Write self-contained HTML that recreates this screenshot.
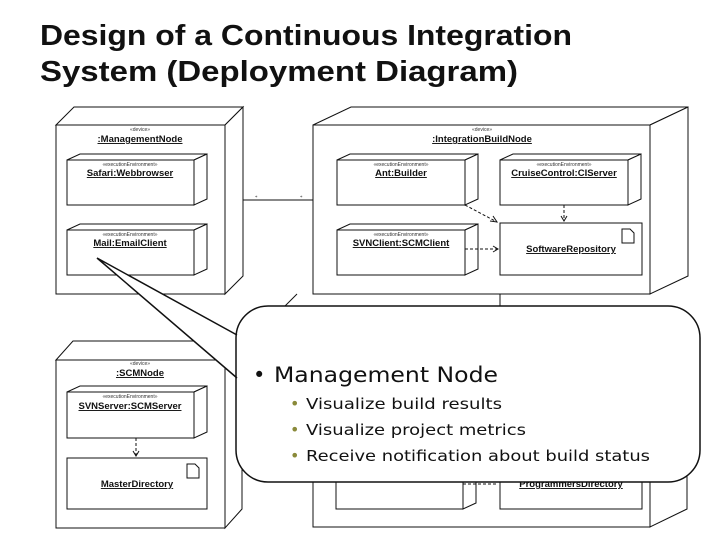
<!DOCTYPE html>
<html><head><meta charset="utf-8"><style>
html,body{margin:0;padding:0;background:#fff;}
svg{display:block;}
.st{font:5px "Liberation Sans",sans-serif;fill:#333;text-anchor:middle;}
.nm{font:bold 9.5px "Liberation Sans",sans-serif;fill:#111;text-anchor:middle;text-decoration:underline;}
</style></head><body>
<svg width="720" height="540" viewBox="0 0 720 540" xmlns="http://www.w3.org/2000/svg">
<g font-family="Liberation Sans, sans-serif" font-weight="bold" font-size="29" fill="#111">
<text x="40" y="45" textLength="532" lengthAdjust="spacingAndGlyphs">Design of a Continuous Integration</text>
<text x="40" y="81" textLength="478" lengthAdjust="spacingAndGlyphs">System (Deployment Diagram)</text>
</g>
<g fill="#fff" stroke="#111" stroke-width="1">
<polygon points="56,125 74,107 243,107 225,125"/><polygon points="225,125 243,107 243,276 225,294"/><rect x="56" y="125" width="169" height="169"/>
<polygon points="313,125 351,107 688,107 650,125"/><polygon points="650,125 688,107 688,276 650,294"/><rect x="313" y="125" width="337" height="169"/>
<polygon points="56,360 73,341 242,341 225,360"/><polygon points="225,360 242,341 242,509 225,528"/><rect x="56" y="360" width="169" height="168"/>
<polygon points="313,360 350,342 687,342 650,360"/><polygon points="650,360 687,342 687,509 650,527"/><rect x="313" y="360" width="337" height="167"/>
<polygon points="67,160 80,154 207,154 194,160"/><polygon points="194,160 207,154 207,199 194,205"/><rect x="67" y="160" width="127" height="45"/>
<polygon points="67,230 80,224 207,224 194,230"/><polygon points="194,230 207,224 207,269 194,275"/><rect x="67" y="230" width="127" height="45"/>
<polygon points="337,160 350,154 478,154 465,160"/><polygon points="465,160 478,154 478,199 465,205"/><rect x="337" y="160" width="128" height="45"/>
<polygon points="500,160 513,154 641,154 628,160"/><polygon points="628,160 641,154 641,199 628,205"/><rect x="500" y="160" width="128" height="45"/>
<polygon points="337,230 350,224 478,224 465,230"/><polygon points="465,230 478,224 478,269 465,275"/><rect x="337" y="230" width="128" height="45"/>
<rect x="500" y="223" width="142" height="52"/>
<polygon points="67,392 80,386 207,386 194,392"/><polygon points="194,392 207,386 207,432 194,438"/><rect x="67" y="392" width="127" height="46"/>
<rect x="67" y="458" width="140" height="51"/>
<polygon points="336,458 349,452 476,452 463,458"/><polygon points="463,458 476,452 476,503 463,509"/><rect x="336" y="458" width="127" height="51"/>
<rect x="500" y="458" width="142" height="51"/>
<path d="M622,229 h8 l4,4 v10 h-12 z"/><path d="M187,464 h8 l4,4 v10 h-12 z"/>
</g>
<g stroke="#111" fill="none" stroke-width="1">
<line x1="243" y1="200" x2="313" y2="200"/>
<line x1="500" y1="294" x2="500" y2="310"/>
<line x1="297" y1="294" x2="285" y2="306"/>
<line x1="465" y1="205" x2="497" y2="222" stroke-dasharray="3,2"/>
<polyline points="490,221 497,222 493,216"/>
<line x1="564" y1="205" x2="564" y2="221" stroke-dasharray="3,2"/>
<polyline points="561,216 564,221 567,216"/>
<line x1="465" y1="249" x2="498" y2="249" stroke-dasharray="3,2"/>
<polyline points="493,246 498,249 493,252"/>
<line x1="136" y1="438" x2="136" y2="456" stroke-dasharray="3,2"/>
<polyline points="133,451 136,456 139,451"/>
<line x1="463" y1="484" x2="498" y2="484" stroke-dasharray="3,2"/>
</g>
<g font-size="5" fill="#333"><text x="255" y="199">*</text><text x="300" y="199">*</text></g>
<text class="st" x="140" y="131">«device»</text><text class="nm" x="140" y="142">:ManagementNode</text>
<text class="st" x="482" y="131">«device»</text><text class="nm" x="482" y="142">:IntegrationBuildNode</text>
<text class="st" x="130" y="166">«executionEnvironment»</text><text class="nm" x="130" y="176">Safari:Webbrowser</text>
<text class="st" x="130" y="236">«executionEnvironment»</text><text class="nm" x="130" y="246">Mail:EmailClient</text>
<text class="st" x="401" y="166">«executionEnvironment»</text><text class="nm" x="401" y="176">Ant:Builder</text>
<text class="st" x="564" y="166">«executionEnvironment»</text><text class="nm" x="564" y="176">CruiseControl:CIServer</text>
<text class="st" x="401" y="236">«executionEnvironment»</text><text class="nm" x="401" y="246">SVNClient:SCMClient</text>
<text class="nm" x="571" y="252">SoftwareRepository</text>
<text class="st" x="140" y="365">«device»</text><text class="nm" x="140" y="376">:SCMNode</text>
<text class="st" x="130" y="398">«executionEnvironment»</text><text class="nm" x="130" y="409">SVNServer:SCMServer</text>
<text class="nm" x="137" y="487">MasterDirectory</text>
<text class="nm" x="571" y="487">ProgrammersDirectory</text>
<path d="M97,258 L237,335 L237,378 Z" fill="#fff" stroke="none"/>
<rect x="236" y="306" width="464" height="176" rx="32" ry="32" fill="#fff" stroke="#111" stroke-width="1.5"/>
<path d="M237,378 L97,258 L237,335" fill="none" stroke="#111" stroke-width="1.5"/>
<rect x="237" y="336" width="6" height="41" fill="#fff"/>
<g font-family="DejaVu Sans, sans-serif" fill="#111">
<text x="253" y="382" font-size="21">•</text>
<text x="274" y="382" font-size="21" textLength="224" lengthAdjust="spacingAndGlyphs">Management Node</text>
<g font-size="15.5">
<text x="290" y="409" fill="#8a8a3a" font-size="16">•</text><text x="306" y="409" textLength="196" lengthAdjust="spacingAndGlyphs">Visualize build results</text>
<text x="290" y="435" fill="#8a8a3a" font-size="16">•</text><text x="306" y="435" textLength="220" lengthAdjust="spacingAndGlyphs">Visualize project metrics</text>
<text x="290" y="461" fill="#8a8a3a" font-size="16">•</text><text x="306" y="461" textLength="344" lengthAdjust="spacingAndGlyphs">Receive notification about build status</text>
</g></g>
</svg>
</body></html>
